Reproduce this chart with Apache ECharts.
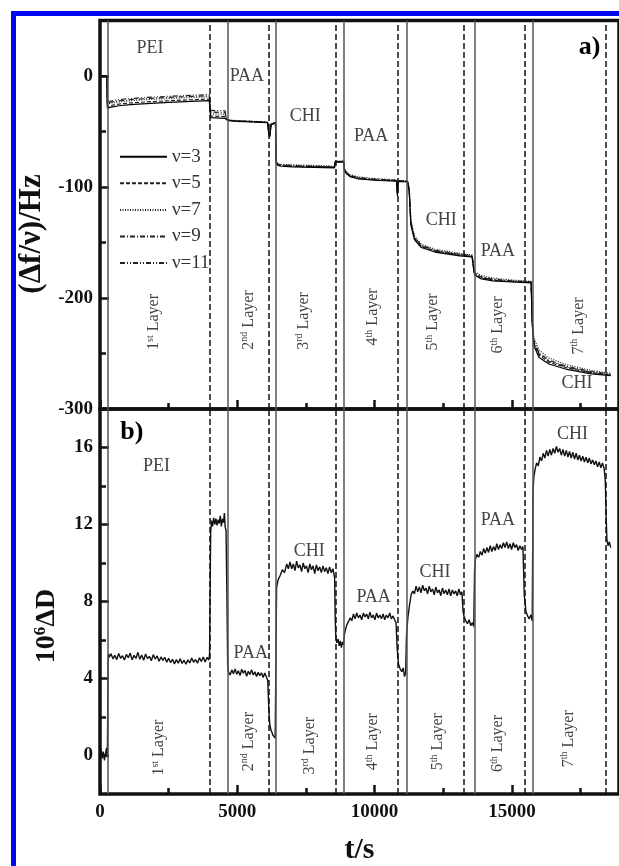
<!DOCTYPE html>
<html>
<head>
<meta charset="utf-8">
<script src="https://cdn.jsdelivr.net/npm/echarts@6/dist/echarts.min.js"></script>
<style>
  html, body { margin: 0; padding: 0; background: #fff; }
  #chart { width: 619px; height: 866px; }
</style>
</head>
<body>
<div id="chart"></div>
<script>
// ---- QCM-D build-up of PEI/(PAA/CHI) layers: frequency and dissipation shifts ----

// sample times (s) shared by the five overtone frequency traces
const freqTimes = [0, 250, 270, 300, 450, 700, 1100, 1700, 2500, 3300,
  3980, 4030, 4080, 4560, 4600, 4700, 5000, 5500, 6100, 6150,
  6180, 6230, 6300, 6390, 6420, 6480, 6600, 7000, 7800, 8540,
  8570, 8600, 8870, 8900, 8950, 9100, 9400, 10000, 10800, 10830,
  10860, 11200, 11260, 11320, 11450, 11700, 12200, 13100, 13550, 13620,
  13660, 13850, 14300, 15000, 15700, 15740, 15800, 15990, 16350, 16950,
  17900, 18600];

// Δf/ν (Hz) per overtone
const freqNu3 = [0, 0, -29, -28.5, -27.8, -26.8, -25.8, -24.8, -23.8, -22.9,
  -22.2, -37.5, -37.8, -38.2, -39.6, -40.2, -40.8, -41.3, -42, -53,
  -55, -44, -42.3, -42.4, -78.5, -80.6, -81.3, -81.8, -82.3, -82.8,
  -77.6, -77, -77.3, -84.5, -87.5, -90.6, -92.6, -93.9, -94.8, -108,
  -95, -95.3, -104, -134, -147.5, -154.5, -158.6, -162, -163, -177,
  -179.6, -182.5, -184.5, -185.6, -186.4, -224, -243, -253.5, -259.5, -264,
  -268.3, -270];
const freqNu5 = [0, 0, -28, -27, -26.3, -25.3, -24.3, -23.3, -22.3, -21.4,
  -20.7, -36, -36.2, -36.6, -39.3, -40, -40.6, -41.1, -41.8, -52,
  -54, -43.5, -42, -42.1, -78, -80, -80.8, -81.3, -81.8, -82.4,
  -77.3, -76.8, -77, -84, -87, -90.1, -92.1, -93.5, -94.5, -106,
  -94.7, -95, -103, -133, -146.6, -153.6, -157.8, -161.3, -162.4, -176,
  -178.8, -181.8, -184, -185.2, -186, -222, -241, -251.5, -257.8, -262.6,
  -267.4, -269.3];
const freqNu7 = [0, 0, -27, -25, -24.3, -23.3, -22.3, -21.3, -20.3, -19.4,
  -18.7, -34, -34.2, -34.5, -39, -39.6, -40.2, -40.7, -41.4, -51,
  -53, -43, -41.6, -41.7, -77, -79, -79.6, -80, -80.6, -81.2,
  -76.8, -76.2, -76.5, -83, -85.8, -88.8, -90.8, -92.3, -93.5, -104,
  -94, -94.5, -101, -130, -144, -151.5, -156, -159.8, -161.2, -174,
  -176.5, -179.5, -182, -183.8, -185, -218, -236, -247, -254, -259.8,
  -265.3, -267.8];
const freqNu9 = [0, 0, -26.5, -24, -23.3, -22.3, -21.3, -20.3, -19.3, -18.4,
  -17.7, -32.5, -32.7, -33, -39.1, -39.8, -40.4, -40.9, -41.6, -51.5,
  -53.5, -43.2, -41.8, -41.9, -77.5, -79.5, -80.2, -80.6, -81.2, -81.8,
  -77, -76.5, -76.8, -83.5, -86.4, -89.5, -91.5, -92.9, -94, -105,
  -94.3, -94.8, -102, -131.5, -145.2, -152.5, -157, -160.6, -161.8, -175,
  -177.6, -180.6, -183, -184.5, -185.5, -220, -238.5, -249.5, -256, -261.3,
  -266.3, -268.5];
const freqNu11 = [0, 0, -26, -23, -22.3, -21.3, -20.3, -19.3, -18.3, -17.4,
  -16.7, -31, -31.2, -31.5, -39.2, -39.9, -40.5, -41, -41.7, -52,
  -54, -43.3, -41.9, -42, -77.8, -79.8, -80.5, -80.9, -81.5, -82.1,
  -77.2, -76.6, -76.9, -83.8, -86.8, -89.9, -91.9, -93.3, -94.3, -106,
  -94.5, -95, -102.5, -132, -145.8, -153, -157.4, -161, -162.2, -175.5,
  -178.2, -181.2, -183.5, -184.9, -185.8, -221, -239.5, -250.5, -257, -262,
  -267, -269];

// 10^6 ΔD trace as [t (s), value]
const dissipation = [
  [0, 0.05], [40, 0.35], [80, -0.15], [120, 0.2], [160, -0.25], [200, 0.1], [240, 0.4], [270, -0.1],
  [290, 4.6], [310, 5.3], [330, 5.1], [400, 5.28], [470, 5.02], [540, 5.21], [610, 4.98], [680, 5.3],
  [750, 5.05], [820, 5.18], [890, 4.96], [960, 5.25], [1030, 5.08], [1100, 5.32], [1170, 4.97], [1240, 5.2],
  [1310, 5.04], [1380, 5.36], [1450, 5.0], [1520, 5.22], [1590, 4.95], [1660, 5.27], [1730, 5.03], [1800, 5.15],
  [1870, 4.92], [1940, 5.24], [2010, 5.01], [2080, 5.17], [2150, 4.9], [2220, 5.12], [2290, 4.94], [2360, 5.1],
  [2430, 4.85], [2500, 5.05], [2570, 4.82], [2640, 5.0], [2710, 4.76], [2780, 4.98], [2850, 4.8], [2920, 5.03],
  [2990, 4.78], [3060, 4.95], [3130, 4.74], [3200, 4.97], [3270, 4.81], [3340, 5.06], [3410, 4.84], [3480, 4.99],
  [3550, 4.79], [3620, 5.08], [3690, 4.88], [3760, 5.12], [3830, 4.86], [3900, 5.1], [3960, 4.95],
  [3990, 5.3], [4010, 8.5], [4030, 11.6], [4060, 12.2], [4100, 11.9], [4140, 12.35], [4180, 12.0], [4220, 12.3],
  [4260, 11.95], [4300, 12.25], [4340, 12.05], [4380, 12.45], [4420, 11.9], [4460, 12.3], [4500, 12.1], [4530, 12.6],
  [4560, 11.85], [4590, 11.7], [4620, 8.5], [4650, 4.6],
  [4680, 4.35], [4740, 4.18], [4800, 4.45], [4860, 4.25], [4920, 4.5], [4980, 4.22], [5040, 4.4], [5100, 4.15],
  [5160, 4.48], [5220, 4.28], [5280, 4.42], [5340, 4.12], [5400, 4.38], [5460, 4.2], [5520, 4.46], [5580, 4.18],
  [5640, 4.35], [5700, 4.1], [5760, 4.32], [5820, 4.15], [5880, 4.3], [5940, 4.05], [6000, 4.28], [6060, 4.08],
  [6108, 3.9], [6145, 2.5], [6180, 1.65], [6220, 1.35], [6263, 1.25], [6300, 1.05], [6340, 1.15], [6380, 0.9], [6410, 1.0],
  [6430, 8.7], [6480, 9.1], [6560, 9.35], [6640, 9.65], [6720, 9.5], [6800, 9.95], [6860, 9.7], [6920, 10.05],
  [6980, 9.7], [7040, 9.95], [7100, 9.6], [7160, 10.1], [7220, 9.75], [7280, 9.9], [7340, 9.55], [7400, 10.0],
  [7460, 9.7], [7520, 9.85], [7580, 9.5], [7640, 9.95], [7700, 9.65], [7760, 9.85], [7820, 9.45], [7880, 9.9],
  [7940, 9.6], [8000, 9.8], [8060, 9.5], [8120, 9.85], [8180, 9.55], [8240, 9.75], [8300, 9.45], [8360, 9.8],
  [8420, 9.5], [8480, 9.7], [8520, 9.45],
  [8545, 9.2], [8565, 7.1], [8590, 6.1], [8630, 5.85], [8670, 6.05], [8710, 5.7], [8750, 5.95], [8790, 5.6],
  [8830, 5.9], [8870, 5.75],
  [8900, 6.3], [8940, 6.55], [8990, 6.8], [9050, 6.95], [9110, 7.15], [9170, 7.0], [9230, 7.35], [9290, 7.1],
  [9350, 7.4], [9410, 7.15], [9470, 7.3], [9530, 7.05], [9590, 7.4], [9650, 7.2], [9710, 7.35], [9770, 7.1],
  [9830, 7.45], [9890, 7.15], [9950, 7.3], [10010, 7.05], [10070, 7.4], [10130, 7.15], [10190, 7.3], [10250, 7.1],
  [10310, 7.35], [10370, 7.05], [10430, 7.3], [10490, 7.15], [10550, 7.4], [10610, 7.1], [10670, 7.25], [10730, 7.05],
  [10780, 6.9], [10820, 5.6], [10870, 4.75], [10930, 4.5], [10990, 4.35], [11040, 4.55], [11090, 4.1], [11130, 4.3],
  [11160, 6.2], [11210, 7.15], [11270, 7.8], [11330, 8.35], [11390, 8.55], [11450, 8.4], [11510, 8.8], [11570, 8.5],
  [11630, 8.75], [11690, 8.45], [11750, 8.85], [11810, 8.55], [11870, 8.7], [11930, 8.4], [11990, 8.8], [12050, 8.5],
  [12110, 8.65], [12170, 8.35], [12230, 8.75], [12290, 8.45], [12350, 8.6], [12410, 8.3], [12470, 8.7], [12530, 8.4],
  [12590, 8.6], [12650, 8.35], [12710, 8.65], [12770, 8.3], [12830, 8.6], [12890, 8.4], [12950, 8.55], [13010, 8.3],
  [13070, 8.65], [13130, 8.35], [13180, 8.5],
  [13220, 7.5], [13260, 7.2], [13320, 7.0], [13380, 6.85], [13440, 7.05], [13500, 6.75], [13560, 6.9], [13610, 6.7],
  [13640, 9.6], [13670, 10.2], [13730, 10.45], [13790, 10.3], [13850, 10.6], [13910, 10.4], [13970, 10.75], [14030, 10.5],
  [14090, 10.8], [14150, 10.55], [14210, 10.9], [14270, 10.6], [14330, 10.85], [14390, 10.65], [14450, 11.0], [14510, 10.7],
  [14570, 10.95], [14630, 10.75], [14690, 11.05], [14750, 10.8], [14810, 11.1], [14870, 10.75], [14930, 11.0], [14990, 10.7],
  [15050, 11.05], [15110, 10.8], [15170, 10.95], [15230, 10.65], [15290, 10.9], [15350, 10.7], [15400, 10.85],
  [15420, 9.9], [15450, 8.35], [15510, 7.5], [15570, 7.25], [15630, 7.1], [15690, 7.3], [15740, 7.0],
  [15770, 13.8], [15800, 14.5], [15850, 14.9], [15900, 15.2], [15960, 15.05], [16020, 15.5], [16080, 15.3], [16140, 15.7],
  [16200, 15.45], [16260, 15.85], [16320, 15.55], [16380, 15.9], [16440, 15.6], [16500, 15.95], [16560, 15.7], [16620, 16.05],
  [16680, 15.75], [16740, 15.95], [16800, 15.6], [16860, 15.9], [16920, 15.55], [16980, 15.85], [17040, 15.5], [17100, 15.8],
  [17160, 15.45], [17220, 15.75], [17280, 15.4], [17340, 15.7], [17400, 15.35], [17460, 15.6], [17520, 15.3], [17580, 15.55],
  [17640, 15.25], [17700, 15.5], [17760, 15.2], [17820, 15.45], [17880, 15.15], [17940, 15.35], [18000, 15.1], [18060, 15.3],
  [18120, 15.0], [18180, 15.25], [18240, 14.95], [18300, 15.2], [18360, 14.9],
  [18400, 14.3], [18430, 12.5], [18460, 11.2], [18500, 10.9], [18550, 11.1], [18600, 10.8]
];

// injection (solid) and rinsing (dashed) instants, s
const solidBoundaries = [286, 4653, 6417, 8887, 11156, 13636, 15773];
const dashedBoundaries = [3998, 6145, 8579, 10834, 13243, 15451, 18407];

// axis ticks
const xMajorTicks = [0, 5000, 10000, 15000];
const xMinorTicks = [2500, 7500, 12500, 17500];
const freqMajorTicks = [-300, -200, -100, 0];
const freqMinorTicks = [-250, -150, -50];
const dissMajorTicks = [0, 4, 8, 12, 16];
const dissMinorTicks = [2, 6, 10, 14];

// polymer annotations: [t, value, text]
const freqPolymers = [[1824, 24.8, 'PEI'], [5348, 0, 'PAA'], [7476, -36, 'CHI'], [9873, -54, 'PAA'],
  [12430, -130.2, 'CHI'], [14487, -157.7, 'PAA'], [17366, -276.6, 'CHI']];
const dissPolymers = [[2057, 15.0, 'PEI'], [5491, 5.3, 'PAA'], [7619, 10.6, 'CHI'], [9962, 8.23, 'PAA'],
  [12198, 9.51, 'CHI'], [14487, 12.24, 'PAA'], [17205, 16.71, 'CHI']];

// layer annotations: [t, value, ordinal, suffix]
const freqLayers = [[1968, -221.6, '1', 'st'], [5404, -219.8, '2', 'nd'], [7409, -220.7, '3', 'rd'],
  [9950, -217, '4', 'th'], [12133, -221.6, '5', 'th'], [14495, -224.3, '6', 'th'], [17430, -225.2, '7', 'th']];
const dissLayers = [[2147, 0.41, '1', 'st'], [5404, 0.72, '2', 'nd'], [7623, 0.51, '3', 'rd'],
  [9950, 0.72, '4', 'th'], [12312, 0.72, '5', 'th'], [14495, 0.62, '6', 'th'], [17072, 0.87, '7', 'th']];

// panel letters: [t, value, text]
const freqPanel = [17831, 26.1, 'a)'];
const dissPanel = [1162, 16.79, 'b)'];

const X_MAX = 18900;
const FREQ_RANGE = [-300, 50];
const DISS_RANGE = [-2, 18];

// ---------------------------------------------------------------------
const serif = '"Liberation Serif", "Times New Roman", serif';
const ink = '#111';
const noteInk = '#444';

const overtones = [
  { name: 'ν=3', values: freqNu3, dash: 'solid' },
  { name: 'ν=5', values: freqNu5, dash: [4, 2] },
  { name: 'ν=7', values: freqNu7, dash: [1, 1.5] },
  { name: 'ν=9', values: freqNu9, dash: [5, 2, 1, 2] },
  { name: 'ν=11', values: freqNu11, dash: [5, 2, 1, 2, 1, 2] }
];

const boundaryLines = solidBoundaries.map(t => ({
  xAxis: t, lineStyle: { type: 'solid', color: '#555', width: 1.5 }
})).concat(dashedBoundaries.map(t => ({
  xAxis: t, lineStyle: { type: [6, 3], color: ink, width: 1.5 }
})));

const markBoundaries = {
  silent: true, symbol: ['none', 'none'], animation: false,
  label: { show: false }, emphasis: { disabled: true },
  data: boundaryLines
};

function tickAxis(gridIndex, range, ticks, len, extra) {
  return Object.assign({
    type: 'value', gridIndex, min: range[0], max: range[1],
    axisLine: { show: false, onZero: false }, splitLine: { show: false },
    axisLabel: { show: false },
    axisTick: { show: true, inside: true, length: len, customValues: ticks,
      lineStyle: { color: ink, width: 2.5 } }
  }, extra || {});
}

const tickFont = { fontFamily: serif, fontSize: 19, fontWeight: 'bold', color: ink };

const layerRich = {
  n: { fontFamily: serif, fontSize: 16, lineHeight: 18, color: noteInk },
  s: { fontFamily: serif, fontSize: 10, lineHeight: 10, verticalAlign: 'top', color: noteInk }
};

function noteSeries(xi, yi, polymers, layers, panel) {
  const data = [];
  polymers.forEach(p => data.push({
    value: [p[0], p[1]],
    label: { formatter: p[2], fontFamily: serif, fontSize: 18, color: noteInk }
  }));
  layers.forEach(l => data.push({
    value: [l[0], l[1]],
    label: { formatter: '{n|' + l[2] + '}{s|' + l[3] + '}{n| Layer}', rotate: 90, rich: layerRich }
  }));
  data.push({
    value: [panel[0], panel[1]],
    label: { formatter: panel[2], fontFamily: serif, fontSize: 26, fontWeight: 'bold', color: '#000' }
  });
  return {
    type: 'scatter', xAxisIndex: xi, yAxisIndex: yi, z: 6,
    symbol: 'circle', symbolSize: 0.1, silent: true, clip: false,
    itemStyle: { color: 'rgba(0,0,0,0)' },
    label: { show: true, position: 'inside', align: 'center', verticalAlign: 'middle', opacity: 1 },
    emphasis: { disabled: true },
    data
  };
}

const series = overtones.map((o, i) => ({
  name: o.name, type: 'line', xAxisIndex: 0, yAxisIndex: 0,
  showSymbol: false, symbol: 'none', z: 3 + (4 - i) * 0.1,
  itemStyle: { color: '#000' },
  lineStyle: { color: i === 0 ? '#000' : '#222', width: 1.2, type: o.dash },
  data: freqTimes.map((t, k) => [t, o.values[k]]),
  markLine: i === 0 ? markBoundaries : undefined
}));

series.push({
  name: 'ΔD', type: 'line', xAxisIndex: 2, yAxisIndex: 2,
  showSymbol: false, symbol: 'none', z: 3,
  itemStyle: { color: ink },
  lineStyle: { color: ink, width: 1.4 },
  data: dissipation,
  markLine: markBoundaries
});

series.push(noteSeries(0, 0, freqPolymers, freqLayers, freqPanel));
series.push(noteSeries(2, 2, dissPolymers, dissLayers, dissPanel));

const gridStyle = { show: true, backgroundColor: 'transparent', borderColor: ink, borderWidth: 3.5 };

const option = {
  animation: false,
  backgroundColor: '#fff',
  textStyle: { fontFamily: serif },
  grid: [
    Object.assign({ left: 100, top: 20.5, width: 528.4, height: 388.5 }, gridStyle),
    Object.assign({ left: 100, top: 409, width: 528.4, height: 388 }, gridStyle)
  ],
  legend: {
    data: overtones.map(o => o.name),
    orient: 'vertical', left: 114, top: 141.7,
    itemWidth: 47, itemHeight: 14, itemGap: 6.6,
    selectedMode: false,
    itemStyle: { opacity: 0, borderWidth: 0 },
    textStyle: { fontFamily: serif, fontSize: 19, color: '#333', lineHeight: 20 }
  },
  xAxis: [
    tickAxis(0, [0, X_MAX], xMajorTicks, 9, { position: 'bottom' }),
    tickAxis(0, [0, X_MAX], xMinorTicks, 6, { position: 'bottom' }),
    tickAxis(1, [0, X_MAX], xMajorTicks, 9, {
      position: 'bottom',
      axisLabel: Object.assign({ show: true, margin: 9, customValues: xMajorTicks,
        formatter: v => String(v) }, tickFont),
      name: 't/s', nameLocation: 'middle', nameGap: 41,
      nameTextStyle: { fontFamily: serif, fontSize: 30, fontWeight: 'bold', color: ink }
    }),
    tickAxis(1, [0, X_MAX], xMinorTicks, 6, { position: 'bottom' })
  ],
  yAxis: [
    tickAxis(0, FREQ_RANGE, freqMajorTicks, 9, {
      position: 'left',
      axisLabel: Object.assign({ show: true, margin: 7, customValues: freqMajorTicks,
        formatter: v => String(v) }, tickFont)
    }),
    tickAxis(0, FREQ_RANGE, freqMinorTicks, 6, { position: 'left' }),
    tickAxis(1, DISS_RANGE, dissMajorTicks, 9, {
      position: 'left',
      axisLabel: Object.assign({ show: true, margin: 7, customValues: dissMajorTicks,
        formatter: v => String(v) }, tickFont)
    }),
    tickAxis(1, DISS_RANGE, dissMinorTicks, 6, { position: 'left' })
  ],
  graphic: [
    { type: 'rect', z: 100, silent: true,
      shape: { x: 13.5, y: 13.5, width: 700, height: 900 },
      style: { fill: 'none', stroke: '#0008f0', lineWidth: 5 } },
    { type: 'text', x: 32, y: 234, rotation: Math.PI / 2, silent: true, z: 100,
      style: { text: '(Δf/ν)/Hz', font: 'bold 31px ' + serif, fill: ink,
        align: 'center', verticalAlign: 'middle' } },
    { type: 'text', x: 47, y: 626, rotation: Math.PI / 2, silent: true, z: 100,
      style: { text: '{b|10}{p|6}{b|ΔD}', fill: ink, align: 'center', verticalAlign: 'middle',
        rich: {
          b: { fontFamily: serif, fontSize: 28, fontWeight: 'bold', lineHeight: 30, fill: ink },
          p: { fontFamily: serif, fontSize: 17, fontWeight: 'bold', lineHeight: 17, verticalAlign: 'top', fill: ink }
        } } }
  ],
  series
};

const chart = echarts.init(document.getElementById('chart'), null, { renderer: 'canvas' });
chart.setOption(option);
</script>
</body>
</html>
